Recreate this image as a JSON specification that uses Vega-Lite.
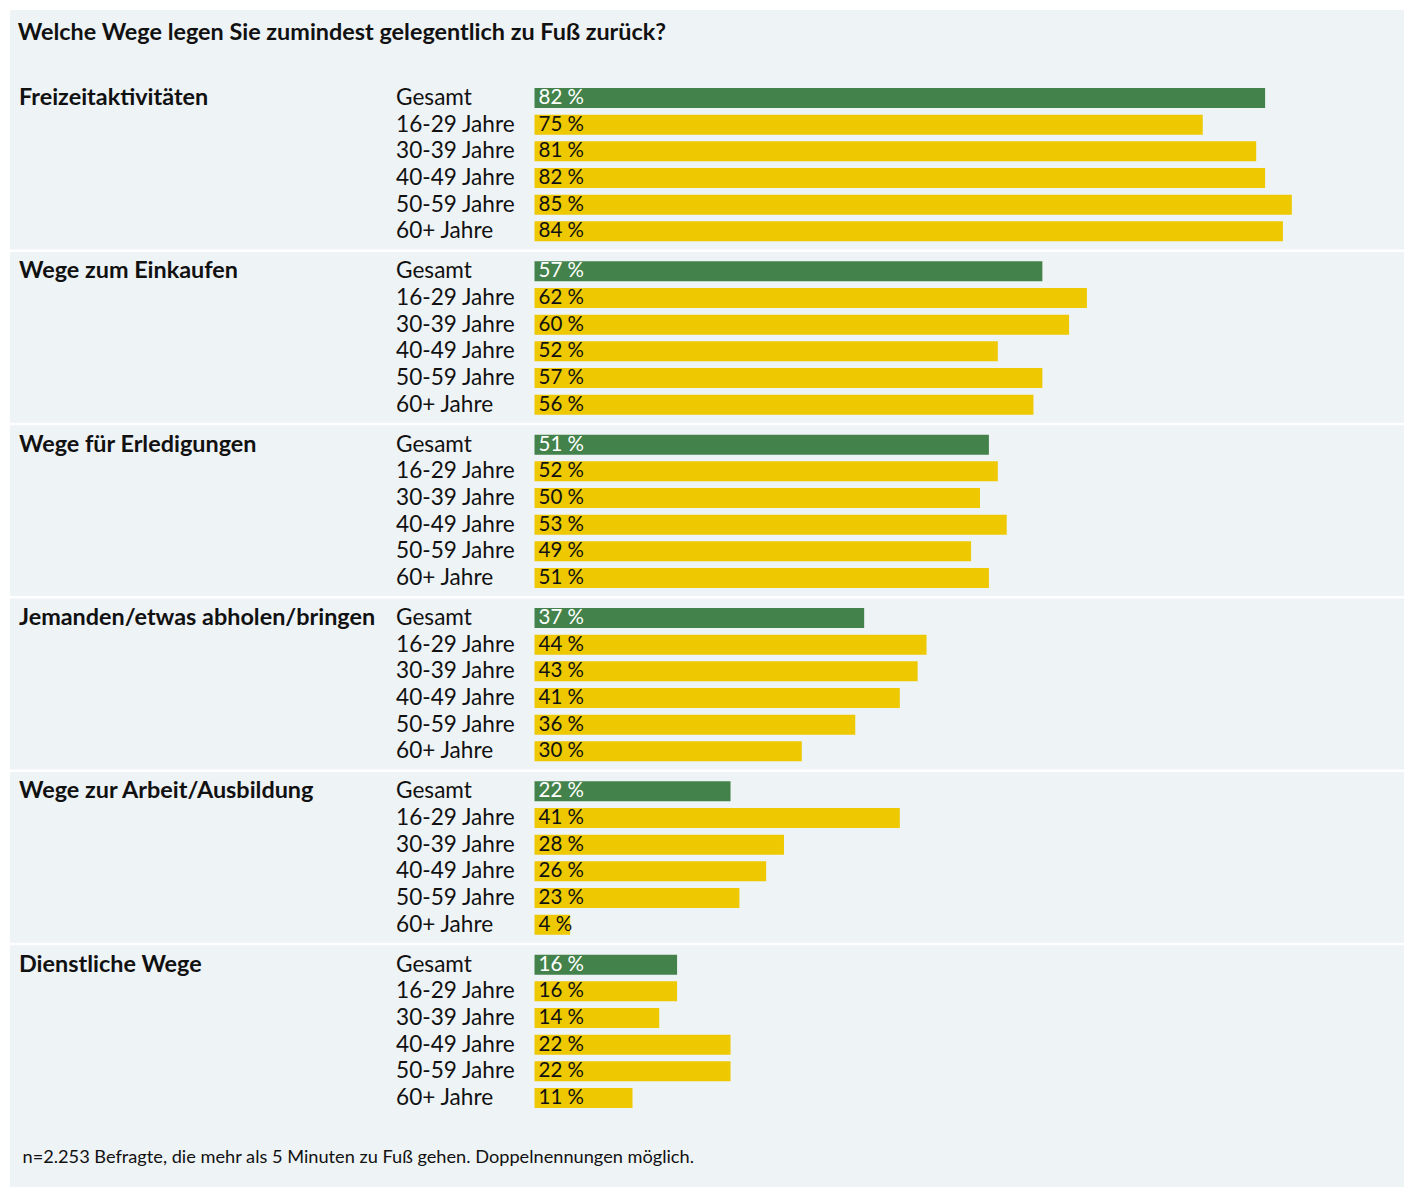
{
  "$schema": "https://vega.github.io/schema/vega-lite/v6.json",
  "autosize": "none",
  "width": 1394,
  "height": 1177,
  "padding": {"left": 10, "top": 10, "right": 0, "bottom": 0},
  "background": "white",
  "config": {"view": {"fill": "#eef3f6", "stroke": null}, "font": "Lato"},
  "title": {"text": "Welche Wege legen Sie zumindest gelegentlich zu Fuß zurück?", "anchor": "start", "dx": 9, "offset": -35, "fontSize": 23.4, "fontWeight": "bold", "color": "#111111", "font": "Lato"},
  "data": {"values": [
    {"group": "Freizeitaktivitäten", "age": "Gesamt", "value": 82},
    {"group": "Freizeitaktivitäten", "age": "16-29 Jahre", "value": 75},
    {"group": "Freizeitaktivitäten", "age": "30-39 Jahre", "value": 81},
    {"group": "Freizeitaktivitäten", "age": "40-49 Jahre", "value": 82},
    {"group": "Freizeitaktivitäten", "age": "50-59 Jahre", "value": 85},
    {"group": "Freizeitaktivitäten", "age": "60+ Jahre", "value": 84},
    {"group": "Wege zum Einkaufen", "age": "Gesamt", "value": 57},
    {"group": "Wege zum Einkaufen", "age": "16-29 Jahre", "value": 62},
    {"group": "Wege zum Einkaufen", "age": "30-39 Jahre", "value": 60},
    {"group": "Wege zum Einkaufen", "age": "40-49 Jahre", "value": 52},
    {"group": "Wege zum Einkaufen", "age": "50-59 Jahre", "value": 57},
    {"group": "Wege zum Einkaufen", "age": "60+ Jahre", "value": 56},
    {"group": "Wege für Erledigungen", "age": "Gesamt", "value": 51},
    {"group": "Wege für Erledigungen", "age": "16-29 Jahre", "value": 52},
    {"group": "Wege für Erledigungen", "age": "30-39 Jahre", "value": 50},
    {"group": "Wege für Erledigungen", "age": "40-49 Jahre", "value": 53},
    {"group": "Wege für Erledigungen", "age": "50-59 Jahre", "value": 49},
    {"group": "Wege für Erledigungen", "age": "60+ Jahre", "value": 51},
    {"group": "Jemanden/etwas abholen/bringen", "age": "Gesamt", "value": 37},
    {"group": "Jemanden/etwas abholen/bringen", "age": "16-29 Jahre", "value": 44},
    {"group": "Jemanden/etwas abholen/bringen", "age": "30-39 Jahre", "value": 43},
    {"group": "Jemanden/etwas abholen/bringen", "age": "40-49 Jahre", "value": 41},
    {"group": "Jemanden/etwas abholen/bringen", "age": "50-59 Jahre", "value": 36},
    {"group": "Jemanden/etwas abholen/bringen", "age": "60+ Jahre", "value": 30},
    {"group": "Wege zur Arbeit/Ausbildung", "age": "Gesamt", "value": 22},
    {"group": "Wege zur Arbeit/Ausbildung", "age": "16-29 Jahre", "value": 41},
    {"group": "Wege zur Arbeit/Ausbildung", "age": "30-39 Jahre", "value": 28},
    {"group": "Wege zur Arbeit/Ausbildung", "age": "40-49 Jahre", "value": 26},
    {"group": "Wege zur Arbeit/Ausbildung", "age": "50-59 Jahre", "value": 23},
    {"group": "Wege zur Arbeit/Ausbildung", "age": "60+ Jahre", "value": 4},
    {"group": "Dienstliche Wege", "age": "Gesamt", "value": 16},
    {"group": "Dienstliche Wege", "age": "16-29 Jahre", "value": 16},
    {"group": "Dienstliche Wege", "age": "30-39 Jahre", "value": 14},
    {"group": "Dienstliche Wege", "age": "40-49 Jahre", "value": 22},
    {"group": "Dienstliche Wege", "age": "50-59 Jahre", "value": 22},
    {"group": "Dienstliche Wege", "age": "60+ Jahre", "value": 11}
  ]},
  "transform": [{"calculate": "datum.value + ' %'", "as": "label"}],
  "encoding": {
    "y": {
      "field": "group", "type": "nominal",
      "sort": ["Freizeitaktivitäten", "Wege zum Einkaufen", "Wege für Erledigungen", "Jemanden/etwas abholen/bringen", "Wege zur Arbeit/Ausbildung", "Dienstliche Wege"],
      "axis": null,
      "scale": {"paddingInner": 0.0769, "paddingOuter": 0.4337, "align": 0.4967}
    }
  },
  "layer": [
    {
      "transform": [{"filter": "datum.age === 'Gesamt' && datum.group !== 'Dienstliche Wege'"}],
      "mark": {"type": "rule", "color": "white", "strokeWidth": 2.5, "yOffset": 6.0},
      "encoding": {
        "y": {"field": "group", "type": "nominal", "bandPosition": 1,
          "sort": ["Freizeitaktivitäten", "Wege zum Einkaufen", "Wege für Erledigungen", "Jemanden/etwas abholen/bringen", "Wege zur Arbeit/Ausbildung", "Dienstliche Wege"]}
      }
    },
    {
      "mark": {"type": "bar", "stroke": null},
      "encoding": {
        "yOffset": {"field": "age", "type": "nominal", "sort": ["Gesamt", "16-29 Jahre", "30-39 Jahre", "40-49 Jahre", "50-59 Jahre", "60+ Jahre"], "scale": {"paddingInner": 0.25, "paddingOuter": 0.125}},
        "x": {
          "field": "value", "type": "quantitative",
          "scale": {"domain": [-58.87, 97.59], "nice": false, "zero": false},
          "axis": {
            "title": "n=2.253 Befragte, die mehr als 5 Minuten zu Fuß gehen. Doppelnennungen möglich.",
            "labels": false, "ticks": false, "domain": false, "grid": false,
            "titleX": 12, "titleY": -30, "titleAlign": "left", "titleBaseline": "middle",
            "titleFontSize": 18.2, "titleFontWeight": "normal", "titleColor": "#111111", "titleFont": "Lato"
          }
        },
        "x2": {"datum": 0},
        "color": {
          "condition": {"test": "datum.age === 'Gesamt'", "value": "#43824b"},
          "value": "#eec800"
        }
      }
    },
    {
      "mark": {"type": "text", "align": "left", "baseline": "middle", "dx": 4, "fontSize": 20.5},
      "encoding": {
        "yOffset": {"field": "age", "type": "nominal", "sort": ["Gesamt", "16-29 Jahre", "30-39 Jahre", "40-49 Jahre", "50-59 Jahre", "60+ Jahre"]},
        "x": {"datum": 0},
        "text": {"field": "label"},
        "color": {
          "condition": {"test": "datum.age === 'Gesamt'", "value": "white"},
          "value": "#111111"
        }
      }
    },
    {
      "mark": {"type": "text", "align": "left", "baseline": "middle", "fontSize": 22.6, "color": "#111111"},
      "encoding": {
        "yOffset": {"field": "age", "type": "nominal", "sort": ["Gesamt", "16-29 Jahre", "30-39 Jahre", "40-49 Jahre", "50-59 Jahre", "60+ Jahre"]},
        "x": {"datum": -15.54},
        "text": {"field": "age"}
      }
    },
    {
      "transform": [{"filter": "datum.age === 'Gesamt'"}],
      "mark": {"type": "text", "align": "left", "baseline": "middle", "fontSize": 23.4, "fontWeight": "bold", "color": "#111111"},
      "encoding": {
        "yOffset": {"field": "age", "type": "nominal", "sort": ["Gesamt", "16-29 Jahre", "30-39 Jahre", "40-49 Jahre", "50-59 Jahre", "60+ Jahre"]},
        "x": {"datum": -57.86},
        "text": {"field": "group"}
      }
    }
  ]
}
